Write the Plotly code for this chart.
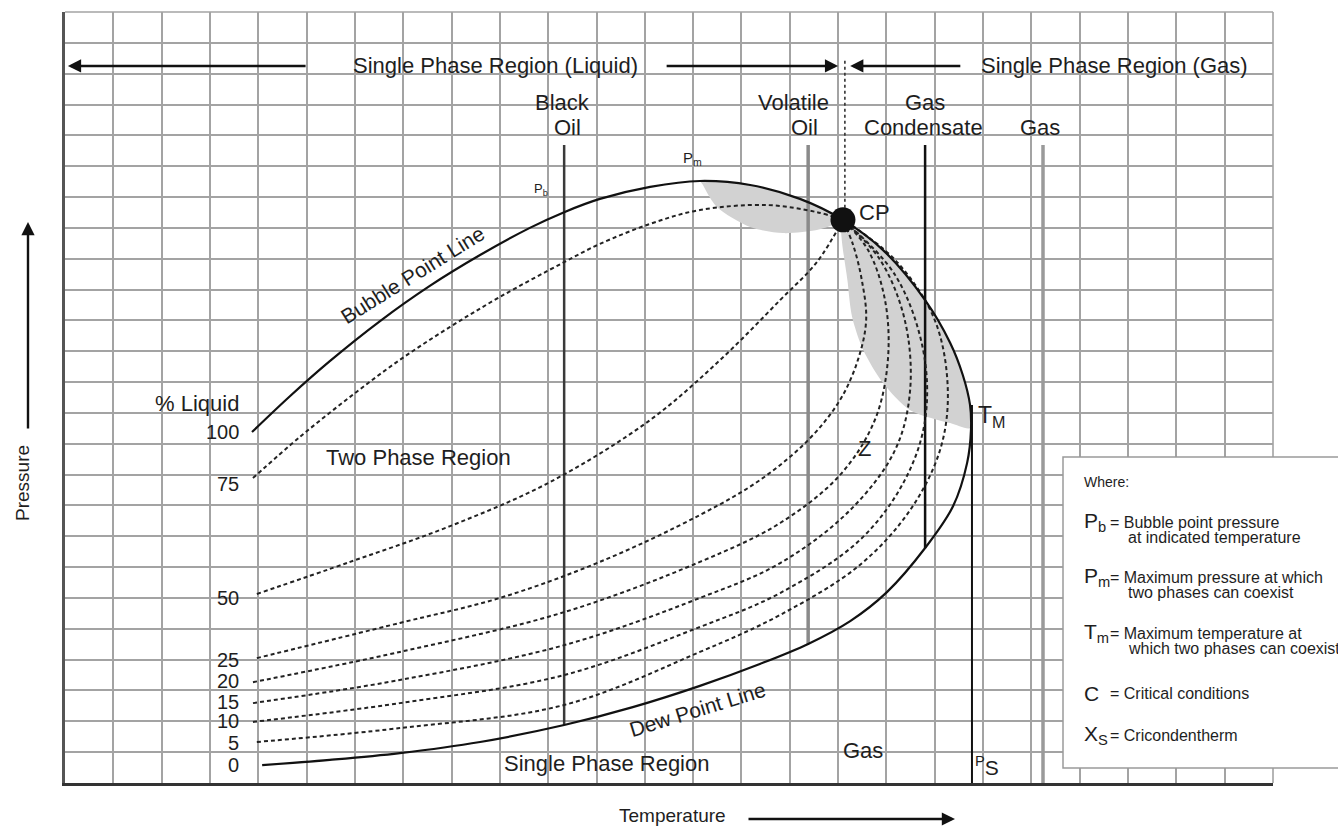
import plotly.graph_objects as go

# ---------------------------------------------------------------------------
# Phase envelope of a reservoir fluid (temperature / pressure in grid units)
# ---------------------------------------------------------------------------
bubble_T = [3.87, 4.66, 5.48, 6.52, 7.55, 8.59, 9.62, 10.33, 11.07, 12.11, 13.14, 14.18, 15.21, 16.1]
bubble_P = [11.38, 12.55, 13.68, 14.98, 16.12, 17.12, 18.0, 18.51, 18.94, 19.33, 19.52, 19.39, 18.94, 18.26]

dew_T = [16.1, 16.93, 17.8, 18.32, 18.58, 18.73, 18.75, 18.67, 18.38, 17.8, 17.01, 16.25, 15.38, 14.38,
         13.14, 11.75, 10.33, 8.59, 6.93, 5.48, 4.08]
dew_P = [18.26, 17.28, 15.66, 14.27, 13.23, 12.26, 11.45, 10.38, 8.98, 7.62, 6.19, 5.25, 4.51, 3.86,
         3.15, 2.46, 1.88, 1.33, 0.97, 0.75, 0.58]

# iso-liquid (quality) lines, % liquid
q75_T = [3.89, 4.86, 5.9, 6.93, 7.97, 9.0, 10.33, 11.07, 12.11, 13.14, 14.53, 15.56, 16.1]
q75_P = [9.89, 11.22, 12.52, 13.72, 14.79, 15.76, 16.89, 17.48, 18.13, 18.58, 18.74, 18.51, 18.26]
q50_T = [3.97, 5.9, 7.97, 10.04, 12.11, 13.56, 14.8, 15.56, 16.1]
q50_P = [6.13, 7.17, 8.33, 9.76, 11.77, 13.72, 15.66, 16.89, 18.26]
q25_T = [3.97, 6.93, 9.0, 11.07, 13.14, 14.38, 15.38, 16.04, 16.41, 16.58, 16.49, 16.31, 16.1]
q25_P = [4.05, 5.19, 6.0, 7.17, 8.69, 9.82, 11.12, 12.42, 13.72, 15.01, 16.31, 17.45, 18.26]
q20_T = [3.89, 6.93, 10.33, 13.14, 14.8, 16.04, 16.76, 17.03, 16.97, 16.62, 16.1]
q20_P = [3.27, 4.25, 5.54, 7.17, 8.43, 9.99, 11.77, 13.72, 15.66, 17.28, 18.26]
q15_T = [3.89, 6.93, 10.33, 13.14, 14.8, 16.25, 17.18, 17.49, 17.38, 16.87, 16.1]
q15_P = [2.59, 3.34, 4.47, 6.0, 7.13, 8.85, 10.8, 12.74, 15.01, 16.96, 18.26]
q10_T = [3.89, 6.93, 10.33, 13.14, 14.8, 16.45, 17.38, 17.8, 17.76, 17.18, 16.1]
q10_P = [1.98, 2.59, 3.5, 5.06, 6.16, 7.88, 9.82, 11.77, 14.04, 16.47, 18.26]
q5_T = [3.97, 6.93, 10.33, 13.14, 14.8, 16.45, 17.49, 18.11, 18.27, 18.0, 17.18, 16.1]
q5_P = [1.33, 1.78, 2.53, 4.25, 5.45, 7.07, 8.85, 10.8, 12.74, 15.01, 16.96, 18.26]

quality_labels = ["100", "75", "50", "25", "20", "15", "10", "5", "0"]
quality_label_P = [11.38, 9.7, 6.0, 3.99, 3.31, 2.63, 2.01, 1.3, 0.58]

# retrograde (shaded) zones
upper_gray_T = [13.14, 14.18, 15.21, 16.1, 15.89, 15.56, 14.86, 14.18, 13.49, 13.2]
upper_gray_P = [19.52, 19.39, 18.94, 18.26, 18.09, 17.93, 17.83, 18.03, 18.68, 19.4]
lower_gray_T = [16.1, 16.93, 17.8, 18.32, 18.58, 18.73, 18.73, 18.32, 17.49, 16.93, 16.52, 16.29, 16.2, 16.1]
lower_gray_P = [18.26, 17.28, 15.66, 14.27, 13.23, 12.26, 11.51, 11.67, 12.09, 12.97, 14.04, 15.11, 16.21, 18.26]

# critical point and cricondentherm
cp_T, cp_P = 16.1, 18.26
crit_T, crit_top = 18.77, 12.26

# reservoir fluid types (isothermal depletion paths)
fluid_T = [10.33, 15.38, 17.8, 20.24]
fluid_top = [20.69, 20.69, 20.69, 20.69]
fluid_bottom = [1.88, 4.51, 7.62, 0.0]

# ---------------------------------------------------------------------------
W, H = 1338, 826
ML, MR, MT, MB = 65, 65, 12, 43
PW, PH = W - ML - MR, H - MT - MB
FONT = "Liberation Sans, Arial, sans-serif"
INK = "#1e1e1e"


def paper(xp, yp):
    """Pixel position on the page -> paper coordinates."""
    return (xp - ML) / PW, (H - MB - yp) / PH


fig = go.Figure()

# shaded retrograde zones
for gx, gy in [(upper_gray_T, upper_gray_P), (lower_gray_T, lower_gray_P)]:
    fig.add_trace(go.Scatter(x=gx, y=gy, mode="lines", fill="toself", fillcolor="#d2d2d2",
                             line=dict(width=0, shape="spline", smoothing=0.8), hoverinfo="skip"))

# fluid-type isotherms
fluid_style = [("#3a3a3a", 2.5), ("#8a8a8a", 3.5), ("#111111", 2.5), ("#9a9a9a", 3.5)]
for t, top, bot, (col, wd) in zip(fluid_T, fluid_top, fluid_bottom, fluid_style):
    fig.add_trace(go.Scatter(x=[t, t], y=[bot, top], mode="lines",
                             line=dict(color=col, width=wd), hoverinfo="skip"))

# cricondentherm
fig.add_trace(go.Scatter(x=[crit_T, crit_T], y=[0, crit_top], mode="lines",
                         line=dict(color="#111111", width=2), hoverinfo="skip"))

# dotted divide between liquid and gas regions
fig.add_trace(go.Scatter(x=[cp_T + 0.04, cp_T + 0.04], y=[cp_P, 23.5], mode="lines",
                         line=dict(color="#333333", width=1.6, dash="dot"), hoverinfo="skip"))

# quality lines
for qt, qp in [(q75_T, q75_P), (q50_T, q50_P), (q25_T, q25_P), (q20_T, q20_P),
               (q15_T, q15_P), (q10_T, q10_P), (q5_T, q5_P)]:
    fig.add_trace(go.Scatter(x=qt, y=qp, mode="lines",
                             line=dict(color="#222222", width=2, dash="4px,3px",
                                       shape="spline", smoothing=1.0),
                             hoverinfo="skip"))

# bubble point + dew point envelope
fig.add_trace(go.Scatter(x=bubble_T + dew_T[1:], y=bubble_P + dew_P[1:], mode="lines",
                         line=dict(color="#111111", width=2.2, shape="spline", smoothing=1.0),
                         hoverinfo="skip"))

# critical point
fig.add_trace(go.Scatter(x=[cp_T], y=[cp_P], mode="markers",
                         marker=dict(color="#111111", size=25), hoverinfo="skip"))

ann = []


def label(x, y, text, size=22, xanchor="center", angle=0, ref="x"):
    ann.append(dict(x=x, y=y, text=text, showarrow=False, xanchor=xanchor, yanchor="middle",
                    textangle=angle, font=dict(family=FONT, size=size, color=INK),
                    xref="paper" if ref == "paper" else "x", yref="paper" if ref == "paper" else "y"))


def arrow(hx, hy, tx, ty):
    ann.append(dict(x=hx, y=hy, ax=tx, ay=ty, axref="x", ayref="y", xref="x", yref="y", text="",
                    showarrow=True, arrowhead=2, arrowsize=1.1, arrowwidth=2.4, arrowcolor="#111111"))


# region arrows along the top
arrow(0.06, 23.25, 5.01, 23.25)
arrow(16.0, 23.25, 12.42, 23.25)
arrow(16.25, 23.25, 18.56, 23.25)
label(8.9, 23.25, "Single Phase Region (Liquid)")
label(21.73, 23.25, "Single Phase Region (Gas)")

# fluid type labels
label(10.29, 22.08, "Black")
label(10.39, 21.24, "Oil")
label(15.07, 22.08, "Volatile")
label(15.31, 21.24, "Oil")
label(17.8, 22.08, "Gas")
label(17.76, 21.24, "Condensate")
label(20.18, 21.24, "Gas")

# point labels
label(12.98, 20.25, "P<sub>m</sub>", size=15)
label(9.85, 19.25, "P<sub>b</sub>", size=13)
label(16.39, 18.5, "CP", xanchor="left")
label(18.85, 11.9, "T<sub>M</sub>", size=23, xanchor="left")
label(16.54, 10.86, "Z")
label(18.8, 0.55, "<sup>P</sup>S", size=21, xanchor="left")

# % liquid scale
label(3.64, 12.32, "% Liquid", xanchor="right")
for txt, p in zip(quality_labels, quality_label_P):
    label(3.64, p, txt, size=20, xanchor="right")

# region labels
label(7.31, 10.57, "Two Phase Region")
label(7.2, 16.5, "Bubble Point Line", size=21, angle=-32)
label(13.08, 2.37, "Dew Point Line", size=21, angle=-17)
label(11.2, 0.62, "Single Phase Region")
label(16.52, 1.07, "Gas")

# axis titles with arrows
px_, py_ = paper(22, 483)
label(px_, py_, "Pressure", size=19, angle=-90, ref="paper")
hx, hy = paper(28, 222)
ann.append(dict(x=hx, y=hy, xref="paper", yref="paper", ax=0, ay=208, text="", showarrow=True,
                arrowhead=2, arrowsize=1.1, arrowwidth=2.4, arrowcolor="#111111"))
px_, py_ = paper(672, 815)
label(px_, py_, "Temperature", size=19, ref="paper")
hx, hy = paper(955, 819)
ann.append(dict(x=hx, y=hy, xref="paper", yref="paper", ax=-208, ay=0, text="", showarrow=True,
                arrowhead=2, arrowsize=1.1, arrowwidth=2.4, arrowcolor="#111111"))

# key box
key_rows = [
    ("P<sub>b</sub>", "= Bubble point pressure", "at indicated temperature", 522),
    ("P<sub>m</sub>", "= Maximum pressure at which", "two phases can coexist", 577),
    ("T<sub>m</sub>", "= Maximum temperature at", "which two phases can coexist", 633),
    ("C", "= Critical conditions", None, 693),
    ("X<sub>S</sub>", "= Cricondentherm", None, 735),
]
kx, ky = paper(1082, 482)
label(kx, ky, "Where:", size=14, xanchor="left", ref="paper")
for sym, l1, l2, yp in key_rows:
    sx, sy = paper(1082, yp)
    label(sx, sy, sym, size=21, xanchor="left", ref="paper")
    tx, ty = paper(1108, yp)
    label(tx, ty, l1, size=16, xanchor="left", ref="paper")
    if l2:
        tx, ty = paper(1126, yp + 15)
        label(tx, ty, l2, size=16, xanchor="left", ref="paper")

bx0, by0 = paper(1063, 768)
bx1, by1 = paper(1352, 457)
shapes = [
    dict(type="rect", xref="paper", yref="paper", x0=bx0, y0=by0, x1=bx1, y1=by1,
         fillcolor="white", line=dict(color="#9a9a9a", width=1.5), layer="above"),
    dict(type="line", xref="paper", yref="paper", x0=0, x1=1, y0=1, y1=1,
         line=dict(color="#a3a3a3", width=1.6), layer="below"),
    dict(type="line", xref="paper", yref="paper", x0=1, x1=1, y0=0, y1=1,
         line=dict(color="#a3a3a3", width=1.6), layer="below"),
]

axis_common = dict(range=[0, 25], dtick=1, tick0=0, showgrid=True, gridcolor="#a3a3a3", gridwidth=1.6,
                   showticklabels=False, ticks="", zeroline=False, fixedrange=True)
fig.update_layout(
    width=W, height=H,
    margin=dict(l=ML, r=MR, t=MT, b=MB),
    paper_bgcolor="white", plot_bgcolor="white",
    showlegend=False,
    xaxis=dict(**axis_common, showline=True, linecolor="#333333", linewidth=3),
    yaxis=dict(**axis_common, showline=True, linecolor="#555555", linewidth=3),
    annotations=ann,
    shapes=shapes,
)

fig.write_html("out.html")
